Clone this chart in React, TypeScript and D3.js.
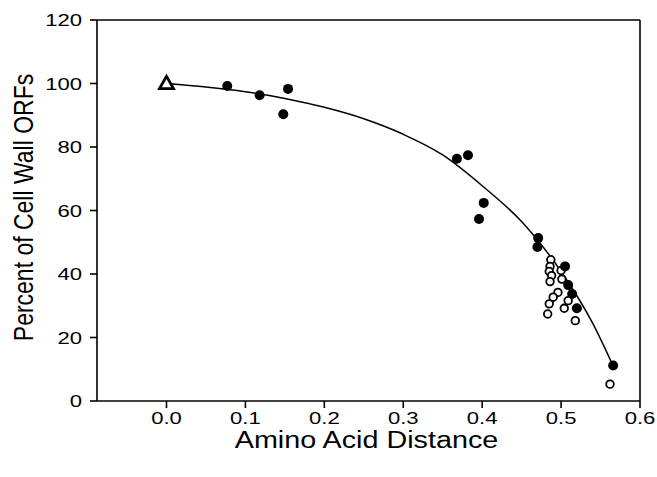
import React from "react";
import * as d3 from "d3";

// Filled circles (ORF sets)
const filledX = [0.077, 0.118, 0.154, 0.148, 0.368, 0.382, 0.402, 0.396, 0.471, 0.470, 0.505, 0.509, 0.514, 0.520, 0.566];
const filledY = [99.2, 96.3, 98.3, 90.3, 76.3, 77.4, 62.4, 57.3, 51.3, 48.5, 42.4, 36.5, 33.7, 29.2, 11.2];

// Open circles
const openX = [0.487, 0.486, 0.485, 0.488, 0.486, 0.500, 0.501, 0.496, 0.490, 0.509, 0.485, 0.504, 0.483, 0.518, 0.562];
const openY = [44.5, 42.4, 40.8, 39.5, 37.6, 41.1, 38.4, 34.2, 32.7, 31.6, 30.6, 29.2, 27.4, 25.3, 5.3];

// Reference (triangle)
const refX = [0.0];
const refY = [100];

// Fitted curve
const curveX = [0, 0.05, 0.1, 0.15, 0.2, 0.25, 0.3, 0.35, 0.4, 0.45, 0.5, 0.54, 0.566];
const curveY = [100, 98.9, 97.4, 95.3, 92.5, 88.9, 84.0, 77.5, 67.8, 56.5, 40.8, 24.5, 11];

const xTicks = [0.0, 0.1, 0.2, 0.3, 0.4, 0.5, 0.6];
const yTicks = [0, 20, 40, 60, 80, 100, 120];

const W = 657;
const H = 477;
const left = 97;
const right = 640;
const top = 20;
const bottom = 401;

export default function App() {
  const x = d3.scaleLinear().domain([0, 0.6]).range([166.5, 640]);
  const y = d3.scaleLinear().domain([0, 120]).range([bottom, top]);
  const line = d3
    .line<number>()
    .x((_, i) => x(curveX[i]))
    .y((_, i) => y(curveY[i]))
    .curve(d3.curveMonotoneX);
  const font = "'Liberation Sans', Arial, Helvetica, sans-serif";
  const tri = d3.symbol().type(d3.symbolTriangle).size(85)();
  const sx = 1.3;

  return (
    <svg
      width={W}
      height={H}
      style={{ position: "absolute", left: 0, top: 0, background: "#fff" }}
      fontFamily={font}
    >
      {/* frame */}
      <g stroke="#000" strokeWidth={1.6} fill="none">
        <line x1={left} x2={right} y1={bottom} y2={bottom} />
        <line x1={left} x2={right} y1={top} y2={top} />
        <line x1={left} x2={left} y1={top} y2={bottom} />
        <line x1={right} x2={right} y1={top} y2={bottom} />
      </g>
      {/* y ticks */}
      {yTicks.map((t) => (
        <g key={"y" + t}>
          <line x1={left - 7} x2={left} y1={y(t)} y2={y(t)} stroke="#000" strokeWidth={1.6} />
          <text
            transform={`translate(${left - 15},${y(t)}) scale(${sx},1)`}
            dy="0.36em"
            textAnchor="end"
            fontSize={17}
          >
            {t}
          </text>
        </g>
      ))}
      {/* x ticks */}
      {xTicks.map((t) => (
        <g key={"x" + t}>
          <line x1={x(t)} x2={x(t)} y1={bottom} y2={bottom + 7} stroke="#000" strokeWidth={1.6} />
          <text
            transform={`translate(${x(t)},${bottom + 23}) scale(${sx},1)`}
            textAnchor="middle"
            fontSize={17}
          >
            {t.toFixed(1)}
          </text>
        </g>
      ))}
      {/* titles */}
      <text
        transform={`translate(${(left + right) / 2 - 2},448) scale(1.25,1)`}
        textAnchor="middle"
        fontSize={23}
      >
        Amino Acid Distance
      </text>
      <text
        transform={`translate(33,${(top + bottom) / 2 - 3}) rotate(-90) scale(1,1.2)`}
        textAnchor="middle"
        fontSize={23}
      >
        Percent of Cell Wall ORFs
      </text>
      {/* curve */}
      <path d={line(curveX) || ""} fill="none" stroke="#000" strokeWidth={1.5} />
      {/* open circles */}
      {openX.map((v, i) => (
        <circle key={"o" + i} cx={x(v)} cy={y(openY[i])} r={3.8} fill="#fff" stroke="#000" strokeWidth={1.8} />
      ))}
      {/* filled circles */}
      {filledX.map((v, i) => (
        <circle key={"f" + i} cx={x(v)} cy={y(filledY[i])} r={5} fill="#000" />
      ))}
      {/* triangle */}
      {refX.map((v, i) => (
        <path
          key={"t" + i}
          d={tri || ""}
          transform={`translate(${x(v)},${y(refY[i]) + 1})`}
          fill="#fff"
          stroke="#000"
          strokeWidth={2.8}
        />
      ))}
    </svg>
  );
}
